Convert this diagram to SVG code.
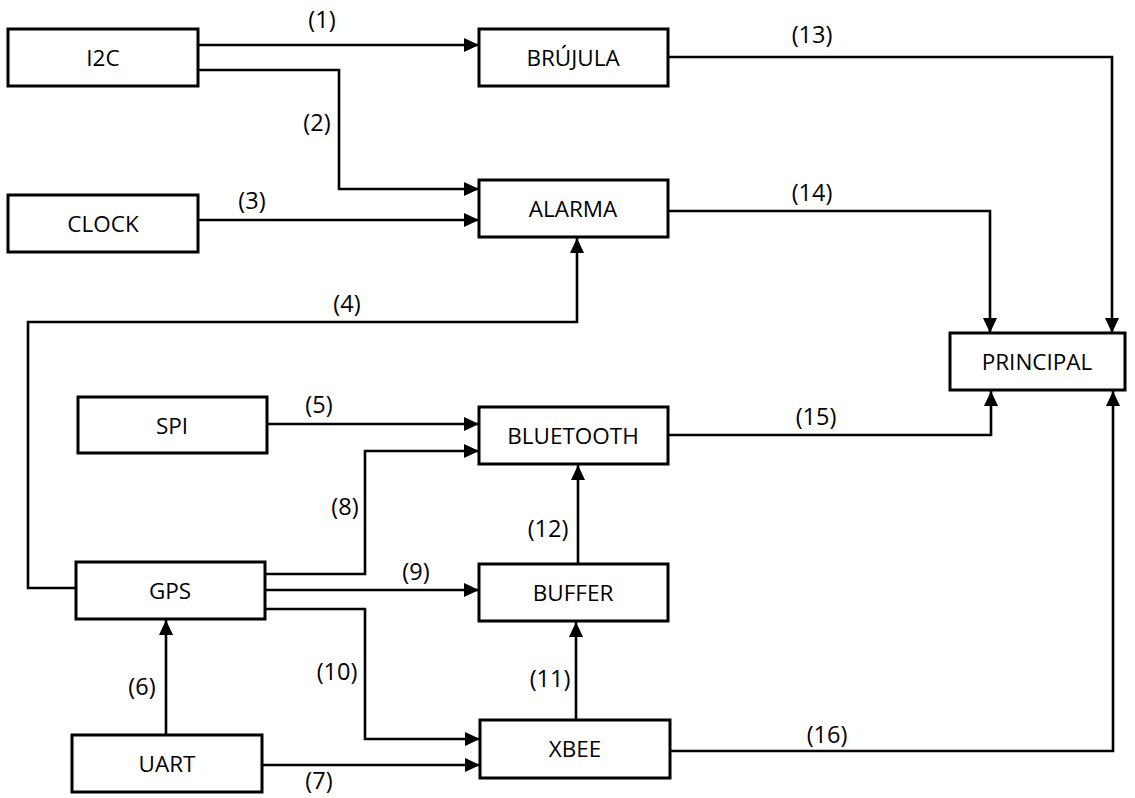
<svg xmlns="http://www.w3.org/2000/svg" width="1135" height="798" viewBox="0 0 1135 798">
<style>
.box{fill:#fff;stroke:#000;stroke-width:3}
.t{font-family:"Open Sans","Liberation Sans",sans-serif;font-size:22.5px;fill:#000;text-anchor:middle}
.l{font-family:"Open Sans","Liberation Sans",sans-serif;font-size:23.5px;fill:#000;text-anchor:middle}
.c{fill:none;stroke:#000;stroke-width:2.6}
</style>
<defs>
<marker id="ah" markerUnits="userSpaceOnUse" markerWidth="16" markerHeight="14" refX="15" refY="7" orient="auto">
<path d="M0,0 L15,7 L0,14 z" fill="#000"/>
</marker>
</defs>
<rect width="1135" height="798" fill="#fff"/>
<g id="connectors">
<path class="c" d="M198,45 H479" marker-end="url(#ah)"/>
<path class="c" d="M198,70 H339 V189 H479" marker-end="url(#ah)"/>
<path class="c" d="M198,220 H479" marker-end="url(#ah)"/>
<path class="c" d="M76,588 H28 V322 H577 V238" marker-end="url(#ah)"/>
<path class="c" d="M267,424 H479" marker-end="url(#ah)"/>
<path class="c" d="M166,735 V620" marker-end="url(#ah)"/>
<path class="c" d="M262,765 H480" marker-end="url(#ah)"/>
<path class="c" d="M265,574 H365 V451 H479" marker-end="url(#ah)"/>
<path class="c" d="M265,590 H479" marker-end="url(#ah)"/>
<path class="c" d="M265,609 H365 V739 H480" marker-end="url(#ah)"/>
<path class="c" d="M576,720 V622" marker-end="url(#ah)"/>
<path class="c" d="M578,564 V465" marker-end="url(#ah)"/>
<path class="c" d="M668,57 H1112 V333" marker-end="url(#ah)"/>
<path class="c" d="M668,211 H990 V333" marker-end="url(#ah)"/>
<path class="c" d="M668,435 H991 V391" marker-end="url(#ah)"/>
<path class="c" d="M670,751 H1113 V391" marker-end="url(#ah)"/>
<g class="l">
<text x="322" y="28">(1)</text>
<text x="317" y="131">(2)</text>
<text x="252" y="209">(3)</text>
<text x="347" y="312">(4)</text>
<text x="319" y="413">(5)</text>
<text x="142" y="695">(6)</text>
<text x="319" y="789">(7)</text>
<text x="345" y="515">(8)</text>
<text x="416" y="580">(9)</text>
<text x="337" y="680">(10)</text>
<text x="550" y="687">(11)</text>
<text x="548" y="537">(12)</text>
<text x="812" y="43">(13)</text>
<text x="812" y="201">(14)</text>
<text x="816" y="425">(15)</text>
<text x="827" y="743">(16)</text>
</g>
</g>
<g id="i2c"><rect class="box" x="8" y="29" width="190" height="57"/><text class="t" x="103" y="66">I2C</text></g>
<g id="clock"><rect class="box" x="8" y="195" width="190" height="57"/><text class="t" x="103" y="232">CLOCK</text></g>
<g id="brujula"><rect class="box" x="479" y="29" width="189" height="57"/><text class="t" x="573" y="66">BRÚJULA</text></g>
<g id="alarma"><rect class="box" x="479" y="180" width="189" height="57"/><text class="t" x="573" y="217">ALARMA</text></g>
<g id="principal"><rect class="box" x="950" y="333" width="175" height="57"/><text class="t" x="1037" y="370">PRINCIPAL</text></g>
<g id="spi"><rect class="box" x="78" y="397" width="189" height="56"/><text class="t" x="172" y="434">SPI</text></g>
<g id="bluetooth"><rect class="box" x="479" y="407" width="189" height="57"/><text class="t" x="573" y="444">BLUETOOTH</text></g>
<g id="gps"><rect class="box" x="76" y="562" width="189" height="57"/><text class="t" x="170" y="599">GPS</text></g>
<g id="buffer"><rect class="box" x="479" y="564" width="189" height="57"/><text class="t" x="573" y="601">BUFFER</text></g>
<g id="xbee"><rect class="box" x="480" y="720" width="190" height="58"/><text class="t" x="575" y="757">XBEE</text></g>
<g id="uart"><rect class="box" x="72" y="735" width="190" height="57"/><text class="t" x="167" y="772">UART</text></g>
</svg>
